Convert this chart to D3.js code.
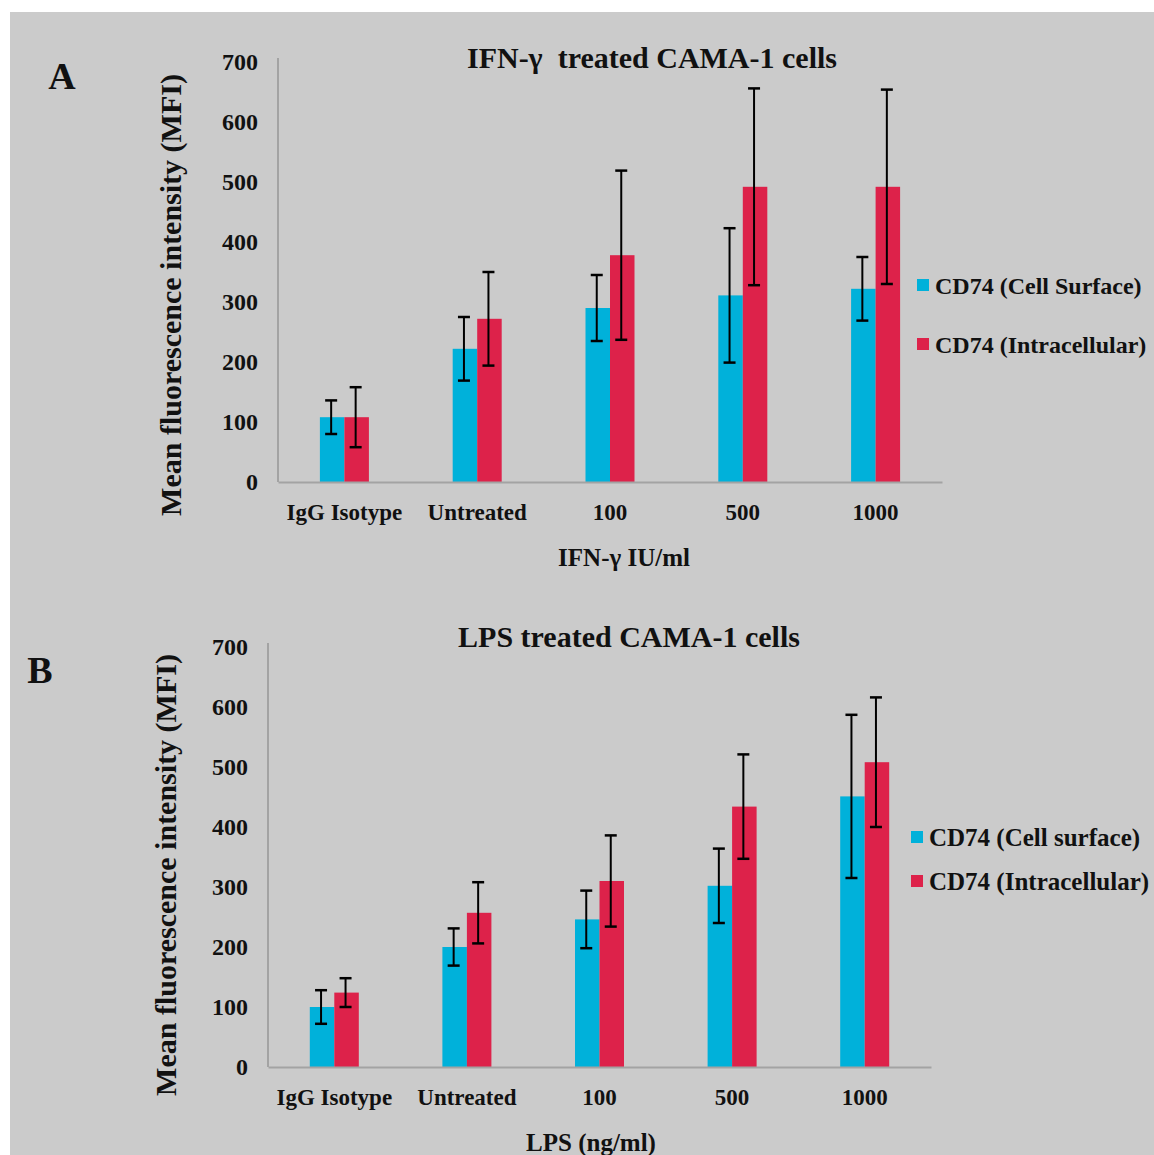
<!DOCTYPE html>
<html>
<head>
<meta charset="utf-8">
<script src="https://cdn.jsdelivr.net/npm/d3@7"></script>
<style>
  body { margin: 0; background: #fff; }
  text { font-family: "Liberation Serif", "DejaVu Serif", serif; font-weight: bold; fill: #111; }
</style>
</head>
<body>
<svg id="chart" width="1154" height="1155"></svg>
<script>
// categories + tick labels
var categories = ["IgG Isotype", "Untreated", "100", "500", "1000"];
var yTicks = [0, 100, 200, 300, 400, 500, 600, 700];

// panel A: IFN-gamma
var ifnSurface = [108, 222, 290, 311, 322];
var ifnSurfaceErr = [28, 53, 55, 112, 53];
var ifnIntra = [108, 272, 378, 492, 492];
var ifnIntraErr = [50, 78, 141, 164, 162];

// panel B: LPS
var lpsSurface = [100, 200, 246, 302, 451];
var lpsSurfaceErr = [28, 31, 48, 62, 136];
var lpsIntra = [124, 257, 310, 434, 508];
var lpsIntraErr = [24, 51, 76, 87, 108];

var colors = ["#00b1da", "#dd224a"];

var svg = d3.select("#chart");
svg.append("rect")
    .attr("x", 10).attr("y", 12)
    .attr("width", 1144).attr("height", 1143)
    .attr("fill", "#cbcbcb");

function panel(opt) {
    var x = d3.scaleBand().domain(categories).range([opt.x0, opt.x1]);
    var y = d3.scaleLinear().domain([0, 700]).range([opt.y0, opt.y0 - 420]);
    var barW = 24.5;
    var series = [
        { vals: opt.surface, errs: opt.surfaceErr, color: colors[0], off: -barW },
        { vals: opt.intra, errs: opt.intraErr, color: colors[1], off: 0 }
    ];

    var g = svg.append("g");

    // axes
    var yAxis = g.append("g")
        .attr("transform", "translate(" + opt.x0 + ",0)")
        .call(d3.axisLeft(y).tickValues(yTicks).tickSize(0).tickPadding(20));
    yAxis.select(".domain").attr("stroke", "#a3a3a3").attr("stroke-width", 2)
        .attr("d", "M0," + opt.y0 + "V" + (y(700) - 4));
    yAxis.selectAll("text").attr("font-size", 24).attr("font-family", "Liberation Serif")
        .attr("font-weight", "bold").attr("fill", "#111");

    series.forEach(function(s) {
        g.selectAll(null)
            .data(categories)
            .enter().append("rect")
            .attr("x", function(d) { return x(d) + x.bandwidth() / 2 + s.off; })
            .attr("y", function(d, i) { return y(s.vals[i]); })
            .attr("width", barW)
            .attr("height", function(d, i) { return opt.y0 - y(s.vals[i]); })
            .attr("fill", s.color);
    });

    var xAxis = g.append("g")
        .attr("transform", "translate(0," + opt.y0 + ")")
        .call(d3.axisBottom(x).tickSize(0).tickPadding(22));
    xAxis.select(".domain").attr("stroke", "#a3a3a3").attr("stroke-width", 2);
    xAxis.selectAll("text").attr("font-size", 23).attr("font-family", "Liberation Serif")
        .attr("font-weight", "bold").attr("fill", "#111");

    // error bars
    series.forEach(function(s) {
        var eg = g.selectAll(null)
            .data(categories)
            .enter().append("g")
            .attr("transform", function(d) {
                return "translate(" + (x(d) + x.bandwidth() / 2 + s.off + barW / 2 - 1) + ",0)";
            });
        eg.append("line")
            .attr("y1", function(d, i) { return y(s.vals[i] + s.errs[i]); })
            .attr("y2", function(d, i) { return y(s.vals[i] - s.errs[i]); })
            .attr("stroke", "#000").attr("stroke-width", 2);
        [1, -1].forEach(function(sign) {
            eg.append("line")
                .attr("x1", -6).attr("x2", 6)
                .attr("y1", function(d, i) { return y(s.vals[i] + sign * s.errs[i]); })
                .attr("y2", function(d, i) { return y(s.vals[i] + sign * s.errs[i]); })
                .attr("stroke", "#000").attr("stroke-width", 2.5);
        });
    });

    // titles
    g.append("text").attr("x", opt.titleX).attr("y", opt.titleY)
        .attr("text-anchor", "middle").attr("font-size", 30)
        .style("white-space", "pre").text(opt.title);
    g.append("text").attr("x", opt.xTitleX).attr("y", opt.y0 + 84)
        .attr("text-anchor", "middle").attr("font-size", 25).text(opt.xTitle);
    g.append("text")
        .attr("transform", "translate(" + opt.yTitleX + "," + opt.yTitleY + ") rotate(-90)")
        .attr("text-anchor", "middle").attr("font-size", 30)
        .text("Mean fluorescence intensity (MFI)");
    g.append("text").attr("x", opt.letterX).attr("y", opt.letterY)
        .attr("text-anchor", "middle").attr("font-size", 38).text(opt.letter);

    // legend
    var lg = g.selectAll(null)
        .data(opt.legend)
        .enter().append("g")
        .attr("transform", function(d, i) {
            return "translate(" + opt.legX + "," + (opt.legY + i * opt.legGap) + ")";
        });
    lg.append("rect").attr("x", 0).attr("y", -15).attr("width", 12).attr("height", 12)
        .attr("fill", function(d, i) { return colors[i]; });
    lg.append("text").attr("x", 18).attr("y", 0).attr("font-size", opt.legSize)
        .text(function(d) { return d; });
}

panel({
    x0: 278, x1: 942, y0: 482,
    surface: ifnSurface, surfaceErr: ifnSurfaceErr,
    intra: ifnIntra, intraErr: ifnIntraErr,
    title: "IFN-\u03b3  treated CAMA-1 cells", titleX: 652, titleY: 68,
    xTitle: "IFN-\u03b3 IU/ml", xTitleX: 624,
    yTitleX: 181, yTitleY: 295, letter: "A", letterX: 62, letterY: 89,
    legend: ["CD74 (Cell Surface)", "CD74 (Intracellular)"],
    legX: 917, legY: 294, legGap: 59, legSize: 24
});

panel({
    x0: 268, x1: 931, y0: 1067,
    surface: lpsSurface, surfaceErr: lpsSurfaceErr,
    intra: lpsIntra, intraErr: lpsIntraErr,
    title: "LPS treated CAMA-1 cells", titleX: 629, titleY: 647,
    xTitle: "LPS (ng/ml)", xTitleX: 591,
    yTitleX: 176, yTitleY: 875, letter: "B", letterX: 40, letterY: 683,
    legend: ["CD74 (Cell surface)", "CD74 (Intracellular)"],
    legX: 911, legY: 846, legGap: 44, legSize: 25
});
</script>
</body>
</html>
